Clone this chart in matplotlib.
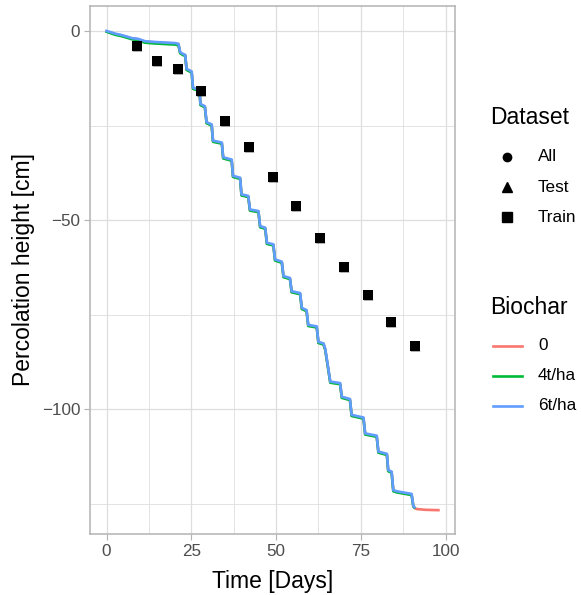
import matplotlib
matplotlib.use("Agg")
import matplotlib.pyplot as plt
from matplotlib.lines import Line2D
from matplotlib.ticker import MultipleLocator

plt.rcParams['font.family'] = ['Liberation Sans', 'DejaVu Sans']

# Observed points (weekly)
obs_days = [9, 15, 21, 28, 35, 42, 49, 56, 63, 70, 77, 84, 91]
obs_height = [-4.0, -8.0, -10.0, -16.0, -23.9, -30.8, -38.6, -46.3, -54.8, -62.4, -69.7, -76.9, -83.2]

# Simulated percolation curves
sim_days = [0, 1.5, 2.5, 4.5, 6.4, 7.5, 9.4, 10.3, 11.3, 14.0, 18.0, 20.2, 21.2,
            21.7, 22.6, 23.2, 23.6, 25.1, 25.5, 27.4, 27.7, 29.0, 29.5, 31.0, 31.4,
            34.0, 34.4, 36.9, 37.3, 39.4, 39.8, 41.8, 42.3, 44.8, 45.3, 46.8, 47.3,
            49.2, 49.7, 51.7, 52.2, 54.1, 54.6, 57.1, 57.6, 59.0, 59.5, 62.0, 62.5,
            64.0, 64.5, 65.2, 66.0, 68.9, 69.4, 71.8, 72.3, 75.8, 76.3, 79.7, 80.2,
            82.7, 83.1, 84.1, 84.6, 85.6, 90.0, 90.5, 90.8]
h_6t = [0.0, -0.4, -0.7, -1.1, -1.6, -1.9, -2.1, -2.4, -2.7, -2.9, -3.1, -3.2, -3.4,
        -5.6, -6.1, -6.3, -10.0, -10.7, -15.0, -15.6, -19.3, -19.9, -24.1, -24.7, -29.0,
        -29.5, -33.4, -34.0, -38.3, -38.8, -43.2, -43.6, -47.2, -47.6, -51.6, -52.0, -56.0,
        -56.4, -60.4, -61.0, -64.8, -65.3, -68.8, -69.3, -73.2, -73.8, -77.7, -78.1, -82.2,
        -82.6, -84.0, -88.0, -92.7, -93.1, -96.7, -97.3, -101.5, -102.2, -106.4, -107.0, -111.2,
        -111.8, -116.1, -116.5, -121.4, -121.7, -122.4, -125.5, -125.9]
h_4t = [-0.2, -0.7, -1.0, -1.4, -1.9, -2.2, -2.5, -2.8, -3.1, -3.3, -3.5, -3.6, -3.8,
        -5.9, -6.4, -6.6, -10.3, -11.0, -15.3, -15.9, -19.6, -20.2, -24.4, -25.0, -29.3,
        -29.8, -33.7, -34.3, -38.6, -39.1, -43.5, -43.9, -47.5, -47.9, -51.9, -52.3, -56.3,
        -56.7, -60.7, -61.3, -65.1, -65.6, -69.1, -69.6, -73.5, -74.1, -78.0, -78.4, -82.5,
        -82.9, -84.3, -88.3, -93.0, -93.4, -97.0, -97.6, -101.8, -102.5, -106.7, -107.3, -111.5,
        -112.1, -116.4, -116.8, -121.7, -122.0, -122.7, -125.7, -126.0]
sim0_days = sim_days + [91.5, 94.0, 97.9]
h_0 = [-0.1, -0.5, -0.8, -1.2, -1.7, -2.0, -2.2, -2.5, -2.8, -3.0, -3.2, -3.3, -3.5,
       -5.8, -6.3, -6.5, -10.2, -10.9, -15.2, -15.8, -19.5, -20.1, -24.3, -24.9, -29.2,
       -29.7, -33.6, -34.2, -38.5, -39.0, -43.4, -43.8, -47.4, -47.8, -51.8, -52.2, -56.2,
       -56.6, -60.6, -61.2, -65.0, -65.5, -69.0, -69.5, -73.4, -74.0, -77.9, -78.3, -82.4,
       -82.8, -84.2, -88.2, -92.9, -93.3, -96.9, -97.5, -101.7, -102.4, -106.6, -107.2, -111.4,
       -112.0, -116.3, -116.7, -121.6, -121.9, -122.6, -125.7, -126.1, -126.4, -126.6, -126.7]

biochar_labels = ["0", "4t/ha", "6t/ha"]
biochar_colors = ["#F8766D", "#00BA38", "#619CFF"]
dataset_labels = ["All", "Test", "Train"]
dataset_markers = ["o", "^", "s"]

W, H = 581, 595
fig = plt.figure(figsize=(W / 100, H / 100), dpi=100)
ax = fig.add_axes([90 / W, 1 - 534 / H, (455 - 90) / W, (534 - 6) / H])

grid_c = "#DEDEDE"
ax.xaxis.set_major_locator(MultipleLocator(25))
ax.xaxis.set_minor_locator(MultipleLocator(12.5))
ax.yaxis.set_major_locator(MultipleLocator(50))
ax.yaxis.set_minor_locator(MultipleLocator(25))
ax.grid(which="major", color=grid_c, linewidth=0.9)
ax.grid(which="minor", color=grid_c, linewidth=0.6)
ax.set_axisbelow(True)

series = [(sim0_days, h_0), (sim_days, h_4t), (sim_days, h_6t)]
for (xs, ys), c in zip(series, biochar_colors):
    ax.plot(xs, ys, color=c, linewidth=1.9, solid_joinstyle="round", zorder=3)

ax.scatter(obs_days, obs_height, marker="o", s=42, color="black", zorder=4, linewidths=0)
ax.scatter(obs_days, obs_height, marker="^", s=48, color="black", zorder=4, linewidths=0)
ax.scatter(obs_days, obs_height, marker="s", s=52, color="black", zorder=5, linewidths=0)

ax.set_xlim(-4.9, 102.8)
ax.set_ylim(-133.0, 6.6)

for s in ax.spines.values():
    s.set_color("#B3B3B3")
    s.set_linewidth(1.1)
ax.tick_params(which="major", length=4, width=0.8, color="#B3B3B3",
               labelsize=12.3, labelcolor="#4D4D4D", pad=3)
ax.tick_params(which="minor", length=0)
ax.set_xticks([0, 25, 50, 75, 100])
ax.set_xticklabels(["0", "25", "50", "75", "100"])
ax.set_yticks([-100, -50, 0])
ax.set_yticklabels(["\u2212100", "\u221250", "0"])

ax.set_xlabel("Time [Days]", fontsize=16.5, labelpad=8)
ax.set_ylabel("Percolation height [cm]", fontsize=16.5, labelpad=5)

# Legends (placed in figure pixel coordinates, top-left origin)
def fx(px):
    return px / W

def fy(py):
    return 1 - py / H

fig.text(fx(490), fy(118), "Dataset", fontsize=16.5, ha="left", va="center")
ds_rows = [157, 187, 217]
ds_sizes = [6, 7, 6.5]
for lab, m, ms, y in zip(dataset_labels, dataset_markers, ds_sizes, ds_rows):
    fig.add_artist(Line2D([fx(507)], [fy(y)], marker=m, markersize=ms, color="black",
                          linestyle="none", transform=fig.transFigure))
    fig.text(fx(538), fy(y), lab, fontsize=12.3, ha="left", va="center")

fig.text(fx(490), fy(307), "Biochar", fontsize=16.5, ha="left", va="center")
bc_rows = [346, 376, 406]
for lab, c, y in zip(biochar_labels, biochar_colors, bc_rows):
    fig.add_artist(Line2D([fx(493), fx(522)], [fy(y), fy(y)], color=c, linewidth=1.9,
                          transform=fig.transFigure))
    fig.text(fx(538), fy(y), lab, fontsize=12.3, ha="left", va="center")

fig.savefig("out.png", dpi=100)
